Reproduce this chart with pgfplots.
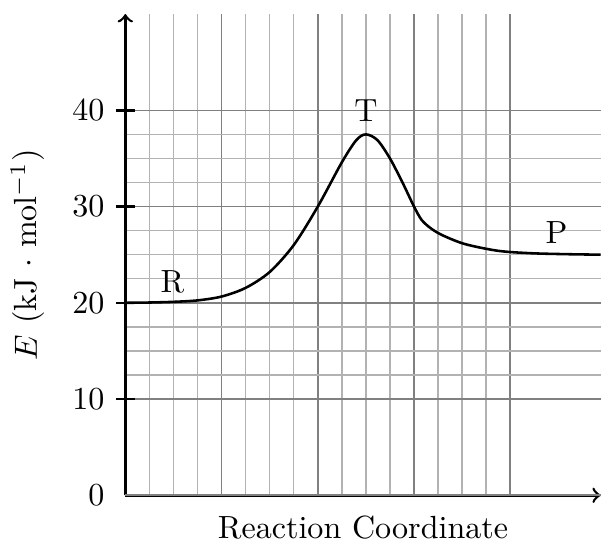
\documentclass[border=0pt]{standalone}
\usepackage{pgfplots}
\pgfplotsset{compat=1.18}

\begin{document}
\begin{tikzpicture}
\begin{axis}[
    x=30pt, y=3pt,
    xmin=0, xmax=4.94,
    ymin=0, ymax=50,
    enlargelimits=false,
    axis lines=left,
    axis line style={thick,->},
    xtick={0,1,2,3,4},
    xticklabels={},
    xtick style={draw=none},
    ytick={10,20,30,40},
    extra y ticks={0},
    extra y tick style={ytick style={draw=none}},
    minor tick num=3,
    minor tick style={draw=none},
    tick align=center,
    major tick length=6pt,
    ytick style={thick,black},
    grid=both,
    major grid style={black!50, line width=0.5pt},
    minor grid style={black!30, line width=0.45pt},
    xlabel={Reaction Coordinate},
    ylabel={$E$ (kJ $\cdot$ mol$^{-1}$)},
    xlabel style={yshift=7pt},
    ylabel style={yshift=-4.3pt},
]
\addplot[thick, black, smooth] coordinates {
    (0,20.0) (0.25,20.03) (0.5,20.1) (0.75,20.25) (1.0,20.65)
    (1.25,21.55) (1.5,23.2) (1.75,26.0) (2.0,30.0) (2.25,34.6)
    (2.4,36.9) (2.5,37.5) (2.62,36.9) (2.75,35.0) (2.88,32.5)
    (3.0,30.0) (3.08,28.6) (3.18,27.7) (3.3,27.0) (3.53,26.1)
    (3.875,25.4) (4.22,25.15) (4.6,25.05) (4.94,25.0)
};
\node at (axis cs:0.49,22.2) {R};
\node at (axis cs:2.5,40) {T};
\node at (axis cs:4.48,27.3) {P};
\end{axis}
\path (current axis.north) ++(0,4.4pt);
\end{tikzpicture}
\end{document}
